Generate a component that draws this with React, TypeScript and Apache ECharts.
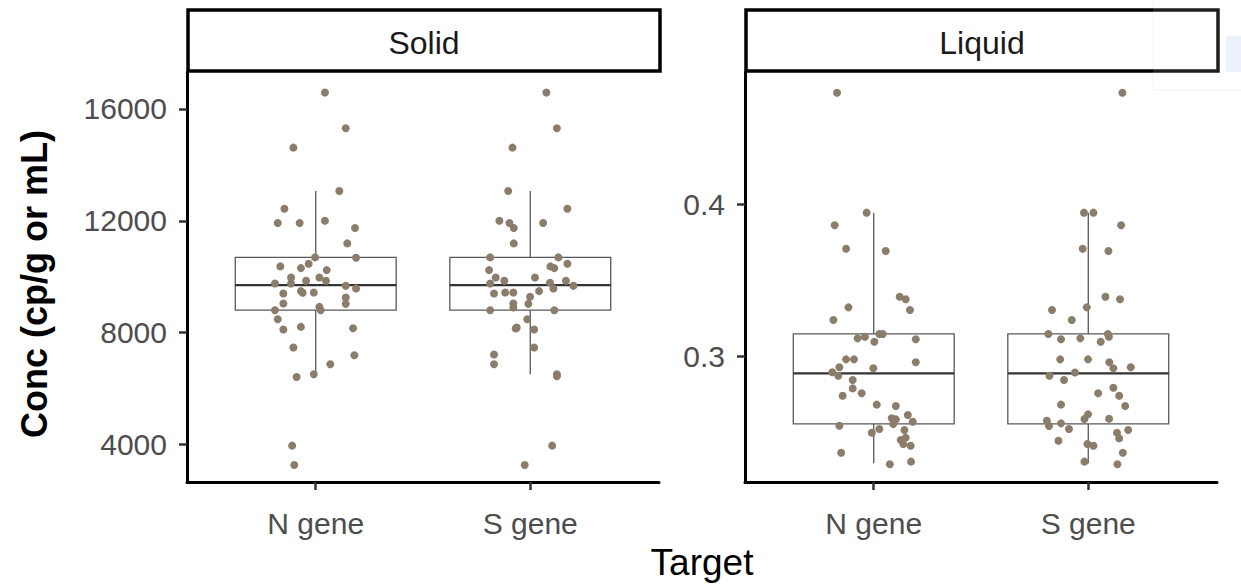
import React, { useEffect, useRef } from "react";
import * as echarts from "echarts";

// ---------- data ----------
const categories = ["N gene", "S gene"];
const panelNames = ["Solid", "Liquid"];
const xTitle = "Target";
const yTitle = "Conc (cp/g or mL)";

const solidTicks = [4000, 8000, 12000, 16000];
const liquidTicks = [0.3, 0.4];

// box stats: [lower whisker, Q1, median, Q3, upper whisker]
const solidBox = [6513, 8803, 9699, 10690, 13064];
const liquidBox = [0.2294, 0.2553, 0.2886, 0.3145, 0.3943];

const solidNValues = [16584, 15309, 14615, 13064, 12431, 11919, 11919, 12001, 11740, 11192, 10677, 10691, 10369, 10308, 10462, 10236, 9975, 9975, 9853, 9760, 9760, 9853, 9674, 9581, 9402, 9484, 9424, 9438, 9259, 9044, 9030, 8922, 8804, 8804, 8482, 8113, 8206, 8160, 7469, 7193, 6871, 6513, 6416, 3960, 3266];
const solidNJitter = [0.043, 0.14, -0.104, 0.11, -0.146, -0.177, -0.075, 0.043, 0.183, 0.147, 0.188, -0.003, -0.165, -0.069, -0.033, 0.051, -0.115, 0.017, 0.048, -0.19, -0.115, -0.045, 0.14, 0.188, -0.151, -0.069, -0.061, -0.009, 0.14, -0.151, 0.14, 0.017, 0.023, -0.19, -0.177, -0.151, -0.069, 0.174, -0.104, 0.18, 0.068, -0.009, -0.089, -0.11, -0.1];

const solidSValues = [16584, 15309, 14615, 13064, 12431, 12001, 11919, 11740, 11919, 11192, 10691, 10691, 10236, 10369, 10308, 10462, 9975, 9760, 9853, 9975, 9782, 9581, 9853, 9674, 9402, 9438, 9438, 9484, 9281, 9044, 9030, 8901, 8804, 8804, 8482, 8185, 8149, 8113, 7469, 7218, 6871, 6513, 6441, 3960, 3266];
const solidSJitter = [0.075, 0.124, -0.083, -0.103, 0.173, -0.144, -0.097, -0.077, 0.06, -0.077, -0.187, 0.131, -0.192, 0.094, 0.112, 0.173, -0.161, -0.187, -0.121, 0.022, 0.092, 0.108, 0.166, 0.201, -0.169, -0.117, -0.079, 0.041, -0.001, -0.079, -0.009, -0.079, -0.187, 0.112, -0.014, -0.063, -0.068, 0.018, 0.018, -0.169, -0.169, 0.124, 0.124, 0.102, -0.026];

const liquidNValues = [0.4732, 0.3943, 0.386, 0.3706, 0.3691, 0.339, 0.3373, 0.3303, 0.332, 0.3237, 0.3116, 0.3127, 0.3145, 0.3145, 0.3094, 0.311, 0.2978, 0.2978, 0.2959, 0.2926, 0.2919, 0.2893, 0.287, 0.2842, 0.2787, 0.2755, 0.2739, 0.268, 0.2671, 0.2612, 0.259, 0.2583, 0.2568, 0.2553, 0.2541, 0.252, 0.2495, 0.2513, 0.2463, 0.2447, 0.2421, 0.241, 0.2364, 0.2305, 0.2288];
const liquidNJitter = [-0.171, -0.033, -0.182, -0.129, 0.056, 0.121, 0.149, 0.169, -0.118, -0.188, -0.075, -0.041, 0.026, 0.042, 0.003, 0.196, -0.129, -0.092, 0.196, -0.16, -0.002, -0.193, -0.165, -0.098, -0.098, -0.056, -0.145, 0.014, 0.103, 0.159, 0.084, 0.103, 0.182, 0.091, -0.16, 0.026, -0.009, 0.143, 0.149, 0.126, 0.138, 0.172, -0.152, 0.174, 0.075];

const liquidSValues = [0.4732, 0.3943, 0.3943, 0.386, 0.3706, 0.3691, 0.339, 0.3373, 0.332, 0.3303, 0.3237, 0.3145, 0.3145, 0.3127, 0.311, 0.3116, 0.3094, 0.2978, 0.2978, 0.2959, 0.2919, 0.2926, 0.287, 0.2891, 0.2842, 0.2791, 0.2755, 0.2739, 0.268, 0.2671, 0.2616, 0.2585, 0.2587, 0.2574, 0.2539, 0.2557, 0.252, 0.2495, 0.2513, 0.2458, 0.2443, 0.2421, 0.241, 0.2364, 0.2305, 0.2288];
const liquidSJitter = [0.159, -0.02, 0.024, 0.153, -0.026, 0.094, 0.08, 0.148, -0.007, -0.169, -0.077, -0.186, 0.091, 0.096, -0.127, -0.037, 0.058, -0.131, -0.001, 0.098, 0.117, 0.198, -0.181, -0.062, -0.113, 0.117, 0.046, 0.144, -0.127, 0.172, -0.001, -0.018, 0.097, -0.193, -0.183, -0.127, -0.09, 0.134, 0.186, 0.144, -0.139, -0.004, 0.024, 0.161, -0.018, 0.136];

// ---------- styling ----------
const FONT = "'Liberation Sans', Arial, sans-serif";
const POINT_COLOR = "#8B7D6B";
const BOX_STROKE = "#595959";
const MEDIAN_STROKE = "#333333";

const grids = [
  { left: 187, top: 72, width: 472, height: 410 },
  { left: 745, top: 72, width: 472, height: 410 },
];
const yRanges = [
  { min: 2660, max: 17320, ticks: solidTicks },
  { min: 0.21711, max: 0.48684, ticks: liquidTicks },
];

function buildPoints(values: number[], jitter: number[], pos: number) {
  return values.map((v, i) => [pos + jitter[i], v]);
}

function renderBox(params: any, api: any) {
  const x = api.value(0);
  const lo = api.value(1);
  const q1 = api.value(2);
  const med = api.value(3);
  const q3 = api.value(4);
  const hi = api.value(5);
  const hw = 0.375;
  const tl = api.coord([x - hw, q3]);
  const br = api.coord([x + hw, q1]);
  const mL = api.coord([x - hw, med]);
  const mR = api.coord([x + hw, med]);
  const pHi = api.coord([x, hi]);
  const pQ3 = api.coord([x, q3]);
  const pQ1 = api.coord([x, q1]);
  const pLo = api.coord([x, lo]);
  return {
    type: "group",
    children: [
      {
        type: "line",
        shape: { x1: pHi[0], y1: pHi[1], x2: pQ3[0], y2: pQ3[1] },
        style: { stroke: BOX_STROKE, lineWidth: 1.3 },
      },
      {
        type: "line",
        shape: { x1: pQ1[0], y1: pQ1[1], x2: pLo[0], y2: pLo[1] },
        style: { stroke: BOX_STROKE, lineWidth: 1.3 },
      },
      {
        type: "rect",
        shape: { x: tl[0], y: tl[1], width: br[0] - tl[0], height: br[1] - tl[1] },
        style: { fill: "#ffffff", stroke: BOX_STROKE, lineWidth: 1.3 },
      },
      {
        type: "line",
        shape: { x1: mL[0], y1: mL[1], x2: mR[0], y2: mR[1] },
        style: { stroke: MEDIAN_STROKE, lineWidth: 2.4 },
      },
    ],
  };
}

export default function App() {
  const ref = useRef<HTMLDivElement>(null);

  useEffect(() => {
    if (!ref.current) return;
    const chart = echarts.init(ref.current, undefined, { renderer: "svg" });

    const xAxes = grids.map((_, i) => ({
      type: "value",
      gridIndex: i,
      min: 0.4,
      max: 2.6,
      splitLine: { show: false },
      axisLine: { show: true, onZero: false, lineStyle: { color: "#000000", width: 3 } },
      axisTick: {
        show: true,
        customValues: [1, 2],
        length: 8,
        lineStyle: { color: "#333333", width: 2.5 },
      },
      axisLabel: {
        customValues: [1, 2],
        formatter: (v: number) => categories[Math.round(v) - 1] ?? "",
        fontSize: 30,
        fontFamily: FONT,
        color: "#4D4D4D",
        margin: 26,
      },
    }));

    const yAxes = yRanges.map((r, i) => ({
      type: "value",
      gridIndex: i,
      min: r.min,
      max: r.max,
      splitLine: { show: false },
      axisLine: { show: true, onZero: false, lineStyle: { color: "#000000", width: 3 } },
      axisTick: {
        show: true,
        customValues: r.ticks,
        length: 8,
        lineStyle: { color: "#333333", width: 2.5 },
      },
      axisLabel: {
        customValues: r.ticks,
        formatter: (v: number) => String(v),
        fontSize: 30,
        fontFamily: FONT,
        color: "#4D4D4D",
        margin: 20,
      },
    }));

    const boxSeries = [solidBox, liquidBox].map((b, i) => ({
      type: "custom",
      xAxisIndex: i,
      yAxisIndex: i,
      renderItem: renderBox,
      encode: { x: 0, y: [1, 2, 3, 4, 5] },
      data: [
        [1, ...b],
        [2, ...b],
      ],
      z: 2,
      silent: true,
    }));

    const pointSets = [
      { data: buildPoints(solidNValues, solidNJitter, 1), idx: 0 },
      { data: buildPoints(solidSValues, solidSJitter, 2), idx: 0 },
      { data: buildPoints(liquidNValues, liquidNJitter, 1), idx: 1 },
      { data: buildPoints(liquidSValues, liquidSJitter, 2), idx: 1 },
    ];
    const scatterSeries = pointSets.map((p) => ({
      type: "scatter",
      xAxisIndex: p.idx,
      yAxisIndex: p.idx,
      data: p.data,
      symbol: "circle",
      symbolSize: 8,
      itemStyle: { color: POINT_COLOR, opacity: 1 },
      z: 5,
      silent: true,
    }));

    const stripGraphics: any[] = [];
    grids.forEach((g, i) => {
      stripGraphics.push({
        type: "rect",
        shape: { x: g.left + 1, y: 10, width: g.width, height: 61 },
        style: { fill: "#ffffff", stroke: "#000000", lineWidth: 3.5 },
        z: 10,
      });
      stripGraphics.push({
        type: "text",
        x: g.left + 1 + g.width / 2,
        y: 43,
        style: {
          text: panelNames[i],
          font: `32px ${FONT}`,
          fill: "#1A1A1A",
          align: "center",
          verticalAlign: "middle",
        },
        z: 11,
      });
    });

    chart.setOption({
      animation: false,
      backgroundColor: "#ffffff",
      grid: grids.map((g) => ({ ...g, containLabel: false })),
      xAxis: xAxes,
      yAxis: yAxes,
      series: [...boxSeries, ...scatterSeries],
      graphic: [
        ...stripGraphics,
        {
          type: "text",
          x: 34,
          y: 284,
          rotation: Math.PI / 2,
          style: {
            text: yTitle,
            font: `bold 36px ${FONT}`,
            fill: "#000000",
            align: "center",
            verticalAlign: "middle",
          },
        },
        {
          type: "text",
          x: 702,
          y: 562,
          style: {
            text: xTitle,
            font: `37px ${FONT}`,
            fill: "#000000",
            align: "center",
            verticalAlign: "middle",
          },
        },
        {
          type: "rect",
          shape: { x: 1153, y: -2, width: 92, height: 92 },
          style: { fill: "rgba(255,255,255,0.12)", stroke: "rgba(0,0,0,0.05)", lineWidth: 1 },
          z: 20,
        },
        {
          type: "rect",
          shape: { x: 1226, y: 36, width: 16, height: 36 },
          style: { fill: "rgba(200,215,245,0.35)" },
          z: 21,
        },
      ],
    });

    return () => {
      chart.dispose();
    };
  }, []);

  return (
    <div
      ref={ref}
      style={{ position: "fixed", left: 0, top: 0, width: 1241, height: 586, background: "#fff" }}
    />
  );
}
